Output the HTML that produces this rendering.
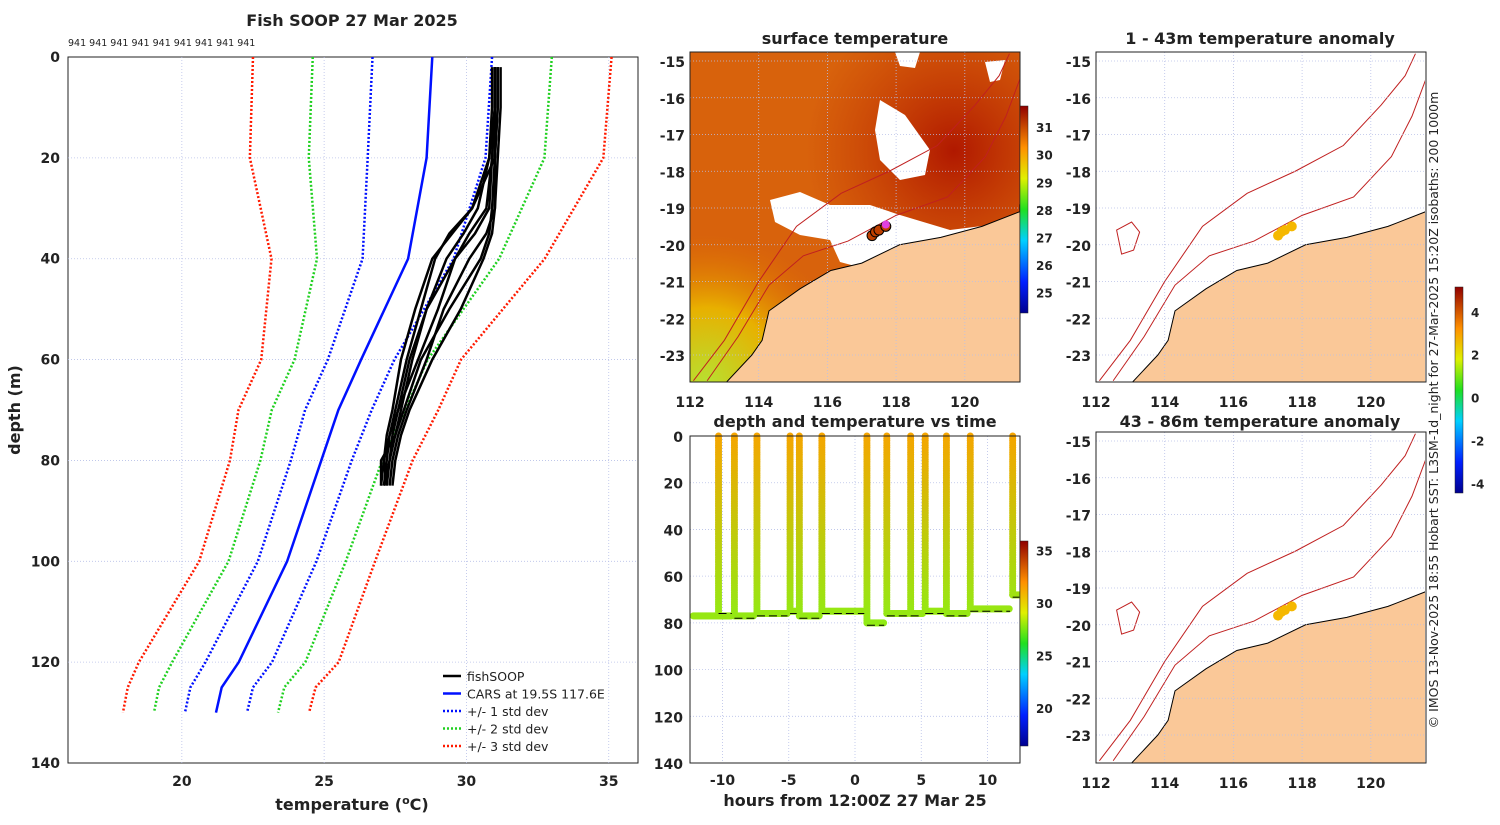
<!DOCTYPE html>
<html><head><meta charset="utf-8"><style>
body{margin:0;background:#fff;}
svg text{font-family:"DejaVu Sans","Liberation Sans",sans-serif;}
.t{font-weight:bold;font-size:16px;fill:#222;}
.k{font-weight:bold;font-size:14px;fill:#222;}
</style></head><body>
<svg id="s" width="1500" height="820" xmlns="http://www.w3.org/2000/svg">
<defs>
<linearGradient id="jet" x1="0" y1="1" x2="0" y2="0">
<stop offset="0" stop-color="#00008f"/><stop offset="0.15" stop-color="#0020ff"/><stop offset="0.35" stop-color="#00d0ff"/>
<stop offset="0.5" stop-color="#20e020"/><stop offset="0.65" stop-color="#e0f000"/><stop offset="0.8" stop-color="#ff9000"/><stop offset="1" stop-color="#900000"/>
</linearGradient>
<radialGradient id="sstA" cx="0.05" cy="1" r="0.45"><stop offset="0" stop-color="#b8e030"/><stop offset="0.5" stop-color="#e8b000"/><stop offset="1" stop-color="#e07000" stop-opacity="0"/></radialGradient>
<radialGradient id="sstB" cx="0.8" cy="0.3" r="0.45"><stop offset="0" stop-color="#b01800"/><stop offset="1" stop-color="#c03000" stop-opacity="0"/></radialGradient>
<clipPath id="cm"><rect x="690" y="52" width="330" height="330"/></clipPath>
<clipPath id="cr1"><rect x="1096" y="52" width="329" height="330"/></clipPath>
<clipPath id="cr2"><rect x="1096" y="432" width="329" height="331"/></clipPath>
</defs>
<g id="left"></g><g id="mid"></g><g id="ts"></g><g id="right"></g>
</svg>
<script>
const NS="http://www.w3.org/2000/svg";
function el(tag,attrs,parent,txt){const e=document.createElementNS(NS,tag);for(const k in attrs)e.setAttribute(k,attrs[k]);if(txt!==undefined)e.textContent=txt;parent.appendChild(e);return e;}

// ===== Profile data =====
const carsDepths=[0,20,40,60,70,80,100,120,125,130];
const carsMean=[28.8,28.6,27.95,26.3,25.5,24.9,23.7,22.0,21.4,21.2];
const carsStd=[2.1,2.07,1.6,1.17,1.17,1.07,1.03,1.17,1.1,1.09];
const fishDepths=[2,10,20,30,35,40,50,60,70,75,80,85];
const fishProfiles=[
[31.0,31.0,30.9,30.8,30.3,29.6,28.6,28.0,27.6,27.3,27.2,27.1],
[31.1,31.1,31.0,30.2,29.5,28.8,28.2,27.7,27.4,27.2,27.1,27.0],
[31.0,31.0,31.0,30.9,30.8,30.5,29.4,28.4,27.8,27.5,27.3,27.2],
[31.2,31.2,31.1,31.0,30.9,30.6,29.8,28.8,28.0,27.7,27.5,27.4],
[30.9,30.9,30.8,30.2,29.4,28.9,28.4,27.9,27.5,27.3,27.1,27.2],
[31.0,31.0,30.9,30.7,30.1,29.6,29.0,28.3,27.6,27.4,27.3,27.1],
[31.1,31.1,31.0,31.0,30.7,30.1,29.2,28.6,27.9,27.6,27.4,27.3],
[31.0,31.0,30.8,30.4,29.9,29.3,28.6,28.1,27.7,27.5,27.0,27.0]
];
const castCount=[941,941,941,941,941,941,941,941,941];
const castTimes=[-10.3,-9.1,-7.4,-4.9,-4.2,-2.5,0.9,2.4,4.2,5.3,6.9,8.7,11.9];
const bottomDepths=[75,77,76,75,77,75,80,76,76,75,76,74,68];
const lonTicks=[112,114,116,118,120];
const latTicks=[-15,-16,-17,-18,-19,-20,-21,-22,-23];
const coastLon=[113.0,113.8,114.1,114.3,115.2,116.1,117.0,118.1,119.3,120.5,121.6,121.6];
const coastLat=[-23.8,-23.0,-22.6,-21.8,-21.2,-20.7,-20.5,-20.0,-19.8,-19.5,-19.1,-18.9];
const iso200Lon=[112.5,113.4,114.3,115.3,116.6,118.0,119.5,120.6,121.2,121.6];
const iso200Lat=[-23.7,-22.5,-21.1,-20.3,-19.9,-19.2,-18.7,-17.6,-16.5,-15.5];
const iso1000Lon=[112.1,113.0,114.0,115.1,116.4,117.8,119.2,120.3,121.0,121.3];
const iso1000Lat=[-23.7,-22.6,-21.0,-19.5,-18.6,-18.0,-17.3,-16.2,-15.4,-14.8];
const shipLon=[117.3,117.4,117.5,117.7];
const shipLat=[-19.75,-19.65,-19.6,-19.5];

const GRID={stroke:'#b8c0e8','stroke-dasharray':'1,2','stroke-width':0.8};
// ===== Left panel =====
const L=document.getElementById('left');
const lx=t=>68+(t-16)*28.46, ly=d=>57+d*5.043;
el('rect',{x:68,y:57,width:570,height:706,fill:'#fff',stroke:'#222','stroke-width':1,},L);
[20,25,30,35].forEach(v=>{el('line',Object.assign({x1:lx(v),x2:lx(v),y1:57,y2:763},GRID),L);
 const t=el('text',{x:lx(v),y:786,'text-anchor':'middle',class:'k'},L,v);});
[0,20,40,60,80,100,120,140].forEach(v=>{if(v>0&&v<140)el('line',Object.assign({x1:68,x2:638,y1:ly(v),y2:ly(v)},GRID),L);
 const t=el('text',{x:60,y:ly(v)+5,'text-anchor':'end',class:'k'},L,v);});
el('text',{x:352,y:26,'text-anchor':'middle',class:'t',},L,'Fish SOOP 27 Mar 2025');
el('text',{x:68,y:46,'font-size':9.5,fill:'#222',},L,castCount.join(' '));
el('text',{x:352,y:810,'text-anchor':'middle',class:'t',},L).innerHTML='temperature (<tspan dy="-6" font-size="11">o</tspan><tspan dy="6">C)</tspan>';
el('text',{x:20,y:410,'text-anchor':'middle',class:'t',transform:'rotate(-90 20 410)',},L,'depth (m)');
function line(pts,attrs,parent){return el('polyline',Object.assign({points:pts.map(p=>p.join(',')).join(' '),fill:'none'},attrs),parent);}
[[3,'#ff1a00'],[2,'#20d020'],[1,'#0010ff']].forEach(([k,c])=>{[-1,1].forEach(sg=>{
 const p=line(carsDepths.map((d,i)=>[lx(carsMean[i]+sg*k*carsStd[i]),ly(d)]),{stroke:c,'stroke-width':2.5,'stroke-dasharray':'2,2'},L);
 });});
const cm=line(carsDepths.map((d,i)=>[lx(carsMean[i]),ly(d)]),{stroke:'#0010ff','stroke-width':2.5},L);

fishProfiles.forEach(pr=>{const p=line(fishDepths.map((d,i)=>[lx(pr[i]),ly(d)]),{stroke:'#000','stroke-width':2.5},L);
 });
const lg=el('g',{},L);
[['fishSOOP','#000',''],['CARS at 19.5S 117.6E','#0010ff',''],['+/- 1 std dev','#0010ff','2,2'],['+/- 2 std dev','#20d020','2,2'],['+/- 3 std dev','#ff1a00','2,2']].forEach((e,i)=>{
 const y=676+i*17.5;el('line',{x1:443,x2:461,y1:y,y2:y,stroke:e[1],'stroke-width':2.5,'stroke-dasharray':e[2]},lg);
 el('text',{x:467,y:y+5,'font-size':12.5,fill:'#222'},lg,e[0]);});

// ===== Maps =====
function mapProj(x0,y0){return [lon=>x0+(lon-112)*34.35, lat=>y0+(-15-lat)*36.75];}
function drawMap(G,x0,y0,top,h,clip,kind){
 const [px,py]=mapProj(x0,y0);
 const c=el('g',{'clip-path':'url(#'+clip+')'},G);
 if(kind==='sst'){
  el('rect',{x:x0,y:top,width:330,height:h,fill:'#d8620c',},c);
  el('rect',{x:x0,y:top,width:330,height:h,fill:'url(#sstB)'},c);
  el('rect',{x:x0,y:top,width:330,height:h,fill:'url(#sstA)'},c);
  const cl=el('g',{fill:'#fff',},c);
  el('path',{d:'M880 100 L905 115 L930 150 L925 175 L900 180 L880 160 L875 130 Z'},cl);
  el('path',{d:'M770 200 L800 192 L830 205 L870 205 L900 215 L950 230 L990 225 L1005 235 L990 245 L940 255 L900 265 L870 270 L840 262 L830 240 L800 235 L775 222 Z'},cl);
  el('path',{d:'M895 52 L920 52 L915 68 L900 66 Z'},cl);
  el('path',{d:'M985 62 L1005 60 L1000 80 L990 82 Z'},cl);
 }
 const land=coastLon.map((l,i)=>[px(l),py(coastLat[i])]);
 land.push([x0+340,top+h+10]);land.push([px(113.0),top+h+10]);
 const lp=el('polygon',{points:land.map(p=>p.join(',')).join(' '),fill:'#fac898',stroke:'#000','stroke-width':1},c);
 
 [[iso200Lon,iso200Lat],[iso1000Lon,iso1000Lat]].forEach(([a,b])=>{const p=line(a.map((l,i)=>[px(l),py(b[i])]),{stroke:'#c02020','stroke-width':1},c);
  });
 if(kind!=='sst'){el('path',{d:`M${px(112.6)} ${py(-19.6)} l15 -8 l8 10 l-6 18 l-12 4 z`,fill:'none',stroke:'#c02020'},c);}
 shipLon.forEach((l,i)=>{const d=el('circle',{cx:px(l),cy:py(shipLat[i]),r:5,fill:kind==='sst'?'#c04000':'#f5b800',stroke:kind==='sst'?'#000':'none'},c);
  });
 if(kind==='sst')el('circle',{cx:px(117.7),cy:py(-19.45),r:4,fill:'#e040e0'},c);
 lonTicks.forEach(v=>{el('line',Object.assign({x1:px(v),x2:px(v),y1:top,y2:top+h},GRID),c);
  const t=el('text',{x:px(v),y:top+h+25,'text-anchor':'middle',class:'k'},G,v);});
 latTicks.forEach(v=>{el('line',Object.assign({x1:x0,x2:x0+330,y1:py(v),y2:py(v)},GRID),c);
  const t=el('text',{x:x0-5,y:py(v)+6,'text-anchor':'end',class:'k'},G,v);});
 el('rect',{x:x0,y:top,width:330,height:h,fill:'none',stroke:'#222'},G);
}
function colorbar(G,x,y1,y2,ticks,lo,hi,name){
 el('rect',{x:x,y:y1,width:8,height:y2-y1,fill:'url(#jet)',stroke:'#222','stroke-width':0.5,},G);
 ticks.forEach(v=>{const y=y2-(v-lo)/(hi-lo)*(y2-y1);el('text',{x:x+16,y:y+4,'font-size':12,'font-weight':'bold',fill:'#222'},G,v);});
}
const M=document.getElementById('mid');
drawMap(M,690,61,52,330,'cm','sst');
el('text',{x:855,y:44,'text-anchor':'middle',class:'t',},M,'surface temperature');
colorbar(M,1020,106,313,[25,26,27,28,29,30,31],24.3,31.8,'sst-colorbar');

// ===== Time series =====
const T=document.getElementById('ts');
const tx=h=>855+h*13.25, ty=d=>436+d*2.336;
el('text',{x:855,y:427,'text-anchor':'middle',class:'t',},T,'depth and temperature vs time');
[-10,-5,0,5,10].forEach(v=>{el('line',Object.assign({x1:tx(v),x2:tx(v),y1:436,y2:763},GRID),T);
 const t=el('text',{x:tx(v),y:785,'text-anchor':'middle',class:'k'},T,v);});
[0,20,40,60,80,100,120,140].forEach(v=>{if(v>0&&v<140)el('line',Object.assign({x1:690,x2:1020,y1:ty(v),y2:ty(v)},GRID),T);
 const t=el('text',{x:683,y:ty(v)+6,'text-anchor':'end',class:'k'},T,v);});
el('text',{x:855,y:806,'text-anchor':'middle',class:'t',},T,'hours from 12:00Z 27 Mar 25');
function tempCol(d){const f=Math.min(1,d/80);const r=Math.round(245-f*100),g=Math.round(165+f*70),b=Math.round(f*20);return `rgb(${r},${g},${b})`;}
const tg=el('g',{},T);
castTimes.forEach((t0,i)=>{
 const bd=bottomDepths[i];
 const tEnd=i+1<castTimes.length?castTimes[i+1]-0.2:12.4;
 const t1=i===0?-12.2:t0;
 for(let t=t1;t<=tEnd;t+=0.06){el('circle',{cx:tx(t),cy:ty(bd+(i===0?2:0)),r:3.5,fill:tempCol(bd)},tg);}
 for(let d=0;d<=bd;d+=1){el('circle',{cx:tx(t0),cy:ty(d),r:3.5,fill:tempCol(d)},tg);}
 el('line',{x1:tx(t0),x2:tx(tEnd),y1:ty(bd+1),y2:ty(bd+1),stroke:'#000','stroke-dasharray':'8,4','stroke-width':1},T);
});
el('rect',{x:690,y:436,width:330,height:327,fill:'none',stroke:'#222'},T);
colorbar(T,1020,541,746,[20,25,30,35],16.5,36,'temp-colorbar');

// ===== Right maps =====
const R=document.getElementById('right');
drawMap(R,1096,61,52,330,'cr1','anom');
drawMap(R,1096,441,432,331,'cr2','anom');
el('text',{x:1260,y:44,'text-anchor':'middle',class:'t',},R,'1 - 43m temperature anomaly');
el('text',{x:1260,y:427,'text-anchor':'middle',class:'t',},R,'43 - 86m temperature anomaly');
colorbar(R,1455,287,493,[-4,-2,0,2,4],-4.4,5.2,'anomaly-colorbar');
el('text',{x:1438,y:410,'text-anchor':'middle','font-size':12.5,fill:'#222',transform:'rotate(-90 1438 410)',},R,'© IMOS 13-Nov-2025 18:55 Hobart SST: L3SM-1d_night for 27-Mar-2025 15:20Z isobaths: 200  1000m');
</script>
</body></html>
